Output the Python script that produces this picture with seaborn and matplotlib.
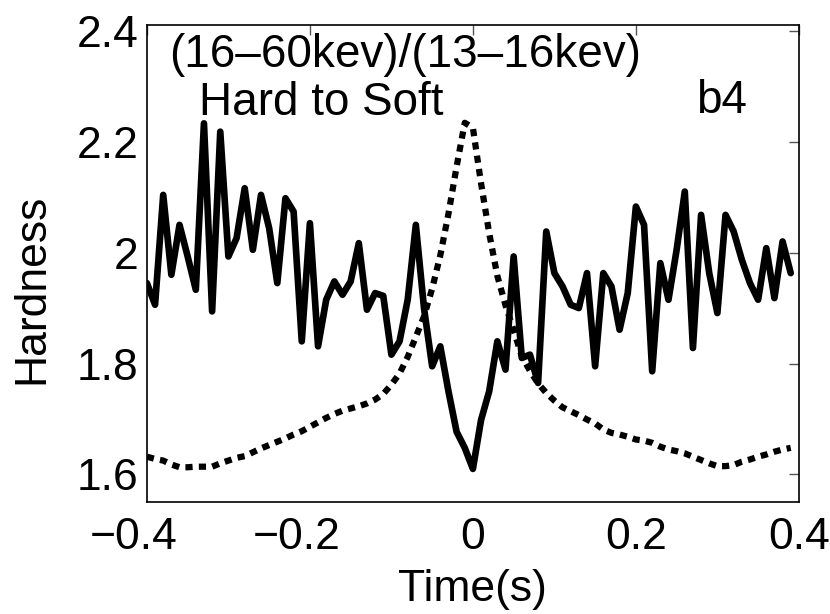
import numpy as np
import pandas as pd
import matplotlib
matplotlib.use("Agg")
import matplotlib.pyplot as plt
import matplotlib.transforms as mtransforms
import seaborn as sns

# time grid of both curves (s), 0.01 s bins from -0.40 to 0.39
time = np.round(np.arange(-40, 40) / 100, 2)

# hardness ratio (16-60 keV)/(13-16 keV), solid line
hardness = [1.945, 1.906, 2.104, 1.960, 2.050, 1.993, 1.933, 2.233, 1.894, 2.218,
            1.993, 2.026, 2.116, 2.005, 2.104, 2.044, 1.945, 2.098, 2.074, 1.840,
            2.053, 1.831, 1.915, 1.948, 1.924, 1.948, 2.017, 1.897, 1.927, 1.922,
            1.816, 1.840, 1.915, 2.050, 1.900, 1.795, 1.831, 1.750, 1.677, 1.648,
            1.610, 1.698, 1.750, 1.840, 1.789, 1.993, 1.810, 1.816, 1.765, 2.038,
            1.963, 1.939, 1.906, 1.900, 1.963, 1.795, 1.963, 1.939, 1.861, 1.927,
            2.083, 2.050, 1.786, 1.981, 1.915, 2.005, 2.110, 1.828, 2.068, 1.963,
            1.891, 2.068, 2.038, 1.987, 1.945, 1.915, 2.008, 1.918, 2.020, 1.963]

# scaled light curve, dotted line
light = [1.632, 1.628, 1.625, 1.618, 1.613, 1.613, 1.614, 1.614, 1.614, 1.620,
         1.625, 1.630, 1.633, 1.640, 1.647, 1.653, 1.659, 1.665, 1.672, 1.678,
         1.686, 1.694, 1.702, 1.709, 1.715, 1.719, 1.723, 1.728, 1.735, 1.745,
         1.762, 1.782, 1.812, 1.848, 1.885, 1.935, 1.995, 2.070, 2.155, 2.234,
         2.225, 2.125, 2.035, 1.958, 1.905, 1.860, 1.813, 1.787, 1.764, 1.747,
         1.733, 1.721, 1.714, 1.707, 1.699, 1.692, 1.681, 1.675, 1.672, 1.668,
         1.663, 1.661, 1.657, 1.650, 1.645, 1.642, 1.638, 1.632, 1.626, 1.620,
         1.615, 1.615, 1.617, 1.623, 1.627, 1.632, 1.636, 1.641, 1.645, 1.648]

xticks = [-0.4, -0.2, 0, 0.2, 0.4]
xtick_labels = ["\u22120.4", "\u22120.2", "0", "0.2", "0.4"]
yticks = [1.6, 1.8, 2.0, 2.2, 2.4]
ytick_labels = ["1.6", "1.8", "2", "2.2", "2.4"]

df = pd.DataFrame({"time": time, "hardness": hardness, "light": light})

sns.set_style("white")
plt.rcParams["font.family"] = ["Liberation Sans", "DejaVu Sans"]
plt.rcParams["text.color"] = "black"
plt.rcParams["axes.labelcolor"] = "black"

fig = plt.figure(figsize=(8.3, 6.14), dpi=100)
ax = fig.add_axes([0.177, 0.183, 0.7855, 0.776])

sns.lineplot(data=df, x="time", y="hardness", ax=ax, color="black", lw=4.8)
sns.lineplot(data=df, x="time", y="light", ax=ax, color="black", lw=4.5,
             linestyle=(0, (1.15, 1.0)), dash_capstyle="butt")

ax.set_xlim(-0.4, 0.4)
ax.set_ylim(1.551, 2.41)
ax.set_xticks(xticks)
ax.set_xticklabels(xtick_labels)
ax.set_yticks(yticks)
ax.set_yticklabels(ytick_labels)
ax.tick_params(direction="in", length=7, width=1, color="#555555",
               labelcolor="black", top=True, right=True, labelsize=32)
ax.tick_params(axis="x", pad=11)
ax.tick_params(axis="y", pad=6)
for s in ax.spines.values():
    s.set_visible(True)
    s.set_color("black")
    s.set_linewidth(1.2)

# negative labels sit a bit left of their ticks in the original
shift = mtransforms.ScaledTranslation(-13 / 100, 0, fig.dpi_scale_trans)
for lab in ax.get_xticklabels()[:2]:
    lab.set_transform(lab.get_transform() + shift)

ax.set_xlabel("Time(s)", fontsize=32, labelpad=8)
ax.set_ylabel("Hardness", fontsize=32)
ax.yaxis.set_label_coords(-0.145, 0.447)

ax.text(-0.373, 2.334, "(16\u201360kev)/(13\u201316kev)", fontsize=33, va="baseline")
ax.text(-0.336, 2.248, "Hard to Soft", fontsize=33, va="baseline")
ax.text(0.274, 2.252, "b4", fontsize=33, va="baseline")

fig.savefig("out.png", dpi=100)
